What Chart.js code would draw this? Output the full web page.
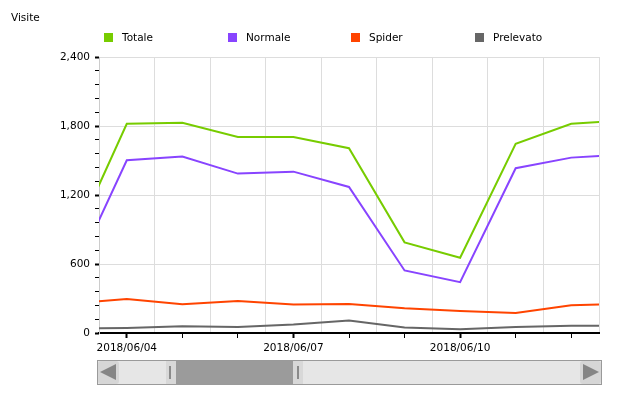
<!DOCTYPE html>
<html>
<head>
<meta charset="utf-8">
<script src="https://cdn.jsdelivr.net/npm/chart.js@4.4.1/dist/chart.umd.min.js"></script>
<style>
html,body{margin:0;padding:0;background:#fff;width:621px;height:396px;overflow:hidden;font-family:"DejaVu Sans",Verdana,sans-serif;}
#wrap{position:relative;width:621px;height:396px;}
#cbox{position:absolute;left:0;top:0;width:621px;height:396px;}
.t{position:absolute;font-size:10.5px;color:#000;line-height:12px;white-space:nowrap;}
.sw{position:absolute;width:9px;height:9px;}
.sb{position:absolute;box-sizing:border-box;}
</style>
</head>
<body>
<div id="wrap">
  <div id="cbox"><canvas id="c"></canvas></div>
  <div class="t" style="left:11px;top:11px;">Visite</div>
  <div id="legend"></div>
  <!-- scrollbar -->
  <div class="sb" style="left:97px;top:360px;width:505px;height:25px;border:1px solid #9a9a9a;background:#e6e6e6;"></div>
  <div class="sb" style="left:98px;top:361px;width:21px;height:23px;background:#d6d6d6;border-radius:3px;"></div>
  <div class="sb" style="left:100px;top:364px;width:0;height:0;border-top:8px solid transparent;border-bottom:8px solid transparent;border-right:16px solid #858585;"></div>
  <div class="sb" style="left:580px;top:361px;width:21px;height:23px;background:#d6d6d6;border-radius:3px;"></div>
  <div class="sb" style="left:583px;top:364px;width:0;height:0;border-top:8px solid transparent;border-bottom:8px solid transparent;border-left:16px solid #858585;"></div>
  <div class="sb" style="left:166px;top:361px;width:137px;height:23px;background:#9b9b9b;"></div>
  <div class="sb" style="left:166px;top:361px;width:10px;height:23px;background:#d8d8d8;"></div>
  <div class="sb" style="left:169px;top:366px;width:2px;height:13px;background:#8a8a8a;"></div>
  <div class="sb" style="left:293px;top:361px;width:10px;height:23px;background:#d8d8d8;"></div>
  <div class="sb" style="left:297px;top:366px;width:2px;height:13px;background:#8a8a8a;"></div>
</div>
<script>
// ---- data ----
const days = ['2018/06/03','2018/06/04','2018/06/05','2018/06/06','2018/06/07','2018/06/08','2018/06/09','2018/06/10','2018/06/11','2018/06/12','2018/06/13'];
const labeledDays = ['2018/06/04','2018/06/07','2018/06/10'];
const totale    = [755, 1819, 1828, 1705, 1705, 1607, 788, 654, 1645, 1819, 1849];
const normale   = [462, 1502, 1534, 1386, 1403, 1270, 544, 442, 1433, 1525, 1555];
const spider    = [256, 296, 250, 279, 247, 253, 215, 192, 174, 241, 253];
const prelevato = [38, 44, 58, 52, 73, 108, 47, 32, 52, 64, 64];
const yLabelTicks = [0, 600, 1200, 1800, 2400];
const yMinorStep = 120;
const seriesNames = ['Totale', 'Normale', 'Spider', 'Prelevato'];
const seriesColors = ['#77cc00', '#8844ff', '#ff4400', '#666666'];
const seriesValues = [totale, normale, spider, prelevato];

// ---- legend (HTML) ----
const legendLeft = [104, 228, 351, 475];
const lg = document.getElementById('legend');
seriesNames.forEach((n, i) => {
  const s = document.createElement('div');
  s.className = 'sw';
  s.style.left = legendLeft[i] + 'px';
  s.style.top = '33px';
  s.style.background = seriesColors[i];
  lg.appendChild(s);
  const t = document.createElement('div');
  t.className = 't';
  t.style.left = (legendLeft[i] + 18) + 'px';
  t.style.top = '31px';
  t.textContent = n;
  lg.appendChild(t);
});

const font = {family: '"DejaVu Sans", Verdana, sans-serif', size: 10.5};
const firstShown = 1, lastShown = days.length - 2;

new Chart(document.getElementById('c'), {
  type: 'line',
  data: {
    datasets: seriesNames.map((n, i) => ({
      label: n,
      data: seriesValues[i].map((v, k) => ({x: k, y: v})),
      borderColor: seriesColors[i],
      backgroundColor: seriesColors[i],
      borderWidth: 2,
      pointRadius: 0,
      tension: 0,
      fill: false,
      clip: 0,
      xAxisID: 'x',
      yAxisID: 'y'
    }))
  },
  options: {
    responsive: true,
    maintainAspectRatio: false,
    animation: false,
    events: [],
    layout: {padding: {top: 57, right: 22, bottom: 33, left: 0}},
    plugins: {legend: {display: false}, tooltip: {enabled: false}},
    scales: {
      x: {
        type: 'linear', position: 'bottom',
        min: firstShown - 0.5, max: lastShown + 0.5,
        afterBuildTicks: s => {
          s.ticks = days.map((d, i) => ({value: i})).filter(t => t.value >= firstShown && t.value <= lastShown);
        },
        afterFit: s => { s.height = 30; },
        ticks: {
          autoSkip: false, maxRotation: 0, minRotation: 0, padding: 4, color: '#000', font: font,
          callback: v => labeledDays.includes(days[v]) ? days[v] : ''
        },
        grid: {
          drawOnChartArea: false, drawTicks: true, tickLength: 5, tickColor: '#000',
          tickWidth: ctx => (ctx.tick && labeledDays.includes(days[ctx.tick.value])) ? 2 : 1
        },
        border: {display: true, color: '#000', width: 2}
      },
      xg: {
        type: 'linear', position: 'bottom',
        min: firstShown - 0.5, max: lastShown + 0.5,
        afterBuildTicks: s => {
          s.ticks = days.map((d, i) => ({value: i + 0.5})).filter(t => t.value > firstShown && t.value <= lastShown + 0.5);
        },
        afterFit: s => { s.height = 0; },
        ticks: {display: false},
        grid: {color: '#dddddd', lineWidth: 1, drawTicks: false},
        border: {display: false}
      },
      y: {
        min: 0, max: 2400, position: 'left',
        afterBuildTicks: s => {
          const arr = [];
          for (let v = 0; v <= 2400; v += yMinorStep) arr.push({value: v});
          s.ticks = arr;
        },
        afterFit: s => { s.width = 99; },
        ticks: {
          autoSkip: false, padding: 5, color: '#000', font: font,
          callback: v => yLabelTicks.includes(v) ? v.toLocaleString('en-US') : ''
        },
        grid: {
          color: ctx => (ctx.tick && yLabelTicks.includes(ctx.tick.value) && ctx.tick.value !== 0) ? '#dddddd' : 'rgba(0,0,0,0)',
          tickColor: '#000', tickLength: 4,
          tickWidth: ctx => (ctx.tick && yLabelTicks.includes(ctx.tick.value)) ? 2 : 1
        },
        border: {color: '#cccccc', width: 1}
      }
    }
  }
});
</script>
</body>
</html>
